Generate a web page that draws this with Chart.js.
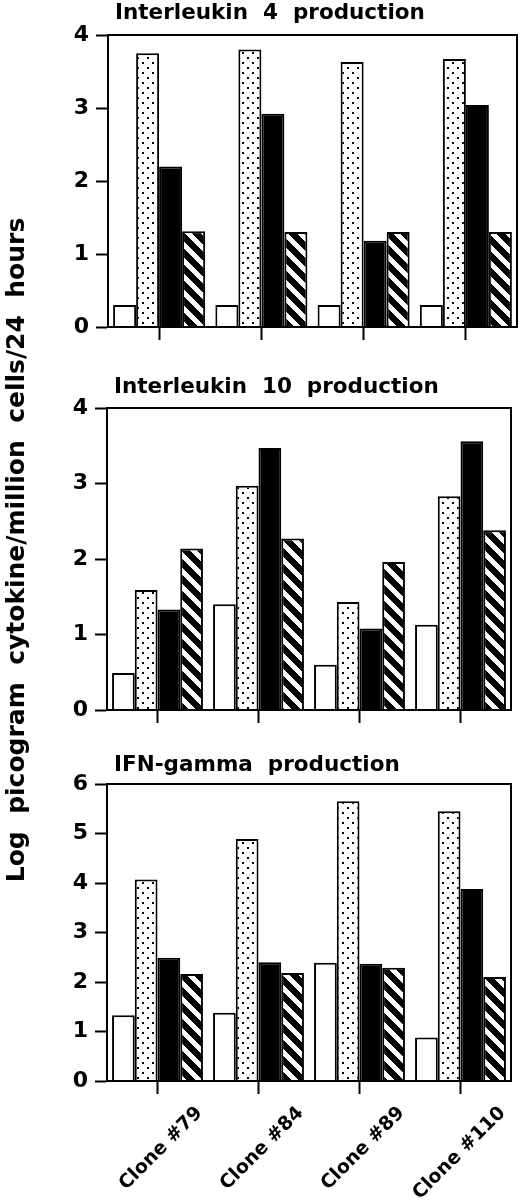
<!DOCTYPE html>
<html>
<head>
<meta charset="utf-8">
<script src="https://cdn.jsdelivr.net/npm/chart.js@4.4.1/dist/chart.umd.min.js"></script>
<style>
    html, body { margin: 0; padding: 0; background: #fff; }
    #page { position: relative; width: 520px; height: 1204px; overflow: hidden; }
    #page canvas { position: absolute; left: 0; }
    #y-title {
        position: absolute;
        left: -334px;
        top: 535px;
        width: 700px;
        height: 30px;
        line-height: 30px;
        text-align: center;
        white-space: pre;
        font: bold 25px "DejaVu Sans";
        color: #000;
        transform: rotate(-90deg);
    }
</style>
</head>
<body>
<div id="page">
    <canvas id="il4-chart" width="520" height="360" style="top:0px"></canvas>
    <canvas id="il10-chart" width="520" height="380" style="top:360px"></canvas>
    <canvas id="ifn-chart" width="520" height="464" style="top:740px"></canvas>
    <div id="y-title">Log  picogram  cytokine/million  cells/24  hours</div>
</div>
<script>
const clones = ['Clone #79', 'Clone #84', 'Clone #89', 'Clone #110'];

// log pg / 10^6 cells / 24 h, four bars per clone: open, dotted, solid, hatched
const il4Open = [0.3, 0.3, 0.3, 0.3];
const il4Dotted = [3.75, 3.8, 3.63, 3.67];
const il4Solid = [2.2, 2.92, 1.18, 3.04];
const il4Hatched = [1.31, 1.3, 1.3, 1.3];

const il10Open = [0.49, 1.4, 0.6, 1.13];
const il10Dotted = [1.59, 2.97, 1.43, 2.83];
const il10Solid = [1.33, 3.47, 1.08, 3.56];
const il10Hatched = [2.14, 2.27, 1.96, 2.38];

const ifnOpen = [1.33, 1.38, 2.39, 0.88];
const ifnDotted = [4.07, 4.89, 5.65, 5.45];
const ifnSolid = [2.49, 2.4, 2.37, 3.88];
const ifnHatched = [2.16, 2.18, 2.29, 2.1];

const il4Max = 4;
const il10Max = 4;
const ifnMax = 6;

const FONT = 'DejaVu Sans';

function makeDotPattern() {
    const c = document.createElement('canvas');
    c.width = 10;
    c.height = 10;
    const g = c.getContext('2d');
    g.fillStyle = '#fff';
    g.fillRect(0, 0, 10, 10);
    g.fillStyle = '#000';
    g.fillRect(2, 2, 2, 2);
    g.fillRect(7, 7, 2, 2);
    return g.createPattern(c, 'repeat');
}

function makeHatchPattern() {
    // white "\" stripes on black
    const p = 16;
    const c = document.createElement('canvas');
    c.width = p;
    c.height = p;
    const g = c.getContext('2d');
    const img = g.createImageData(p, p);
    for (let y = 0; y < p; y++) {
        for (let x = 0; x < p; x++) {
            const d = ((x - y) % p + p) % p;
            const v = d < 7 ? 255 : 0;
            const i = (y * p + x) * 4;
            img.data[i] = v;
            img.data[i + 1] = v;
            img.data[i + 2] = v;
            img.data[i + 3] = 255;
        }
    }
    g.putImageData(img, 0, 0);
    return g.createPattern(c, 'repeat');
}

const dotPattern = makeDotPattern();
const hatchPattern = makeHatchPattern();

// frame round the plot area + panel heading
const panelFrame = {
    id: 'panelFrame',
    afterDraw(chart, args, opts) {
        const {ctx, chartArea} = chart;
        ctx.save();
        ctx.strokeStyle = '#000';
        ctx.lineWidth = 2;
        ctx.strokeRect(chartArea.left, chartArea.top, chartArea.right - chartArea.left, chartArea.bottom - chartArea.top);
        ctx.fillStyle = '#000';
        ctx.font = 'bold 21.5px "' + FONT + '"';
        ctx.textBaseline = 'alphabetic';
        ctx.textAlign = 'left';
        ctx.fillText(opts.text, chartArea.left + 7, chartArea.top - opts.gap);
        ctx.restore();
    }
};

function drawPanel(id, title, series, yMax, box) {
    const ctx = document.getElementById(id).getContext('2d');
    const bar = {
        borderColor: '#000',
        borderWidth: 2,
        categoryPercentage: 0.9,
        barPercentage: 1.0
    };

    return new Chart(ctx, {
        type: 'bar',
        data: {
            labels: clones,
            datasets: [
                Object.assign({data: series[0], backgroundColor: '#fff'}, bar),
                Object.assign({data: series[1], backgroundColor: dotPattern}, bar),
                Object.assign({data: series[2], backgroundColor: '#000'}, bar),
                Object.assign({data: series[3], backgroundColor: hatchPattern}, bar)
            ]
        },
        plugins: [panelFrame],
        options: {
            responsive: false,
            animation: false,
            devicePixelRatio: 1,
            layout: {
                padding: {top: box.top, right: box.right, left: 0, bottom: 0}
            },
            scales: {
                x: {
                    grid: {
                        offset: false,
                        drawOnChartArea: false,
                        tickLength: 13,
                        tickWidth: 2,
                        tickColor: '#000'
                    },
                    border: {color: '#000', width: 2},
                    ticks: {
                        display: box.labels,
                        color: '#000',
                        font: {family: FONT, weight: 'bold', size: 19},
                        minRotation: 45,
                        maxRotation: 45,
                        labelOffset: 42,
                        padding: 8
                    },
                    afterFit: s => { s.height = box.xHeight; }
                },
                y: {
                    min: 0,
                    max: yMax,
                    ticks: {
                        stepSize: 1,
                        color: '#000',
                        font: {family: FONT, weight: 'bold', size: 22},
                        padding: 7
                    },
                    grid: {
                        drawOnChartArea: false,
                        tickLength: 12,
                        tickWidth: 2,
                        tickColor: '#000'
                    },
                    border: {color: '#000', width: 2},
                    afterFit: s => { s.width = box.yWidth; }
                }
            },
            plugins: {
                legend: {display: false},
                tooltip: {enabled: false},
                panelFrame: {text: title, gap: box.gap}
            }
        }
    });
}

drawPanel('il4-chart', 'Interleukin  4  production',
    [il4Open, il4Dotted, il4Solid, il4Hatched], il4Max,
    {top: 35, right: 3, yWidth: 108, xHeight: 33, gap: 16, labels: false});

drawPanel('il10-chart', 'Interleukin  10  production',
    [il10Open, il10Dotted, il10Solid, il10Hatched], il10Max,
    {top: 48, right: 9, yWidth: 107, xHeight: 30, gap: 15, labels: false});

drawPanel('ifn-chart', 'IFN-gamma  production',
    [ifnOpen, ifnDotted, ifnSolid, ifnHatched], ifnMax,
    {top: 44, right: 9, yWidth: 107, xHeight: 123, gap: 13, labels: true});
</script>
</body>
</html>
